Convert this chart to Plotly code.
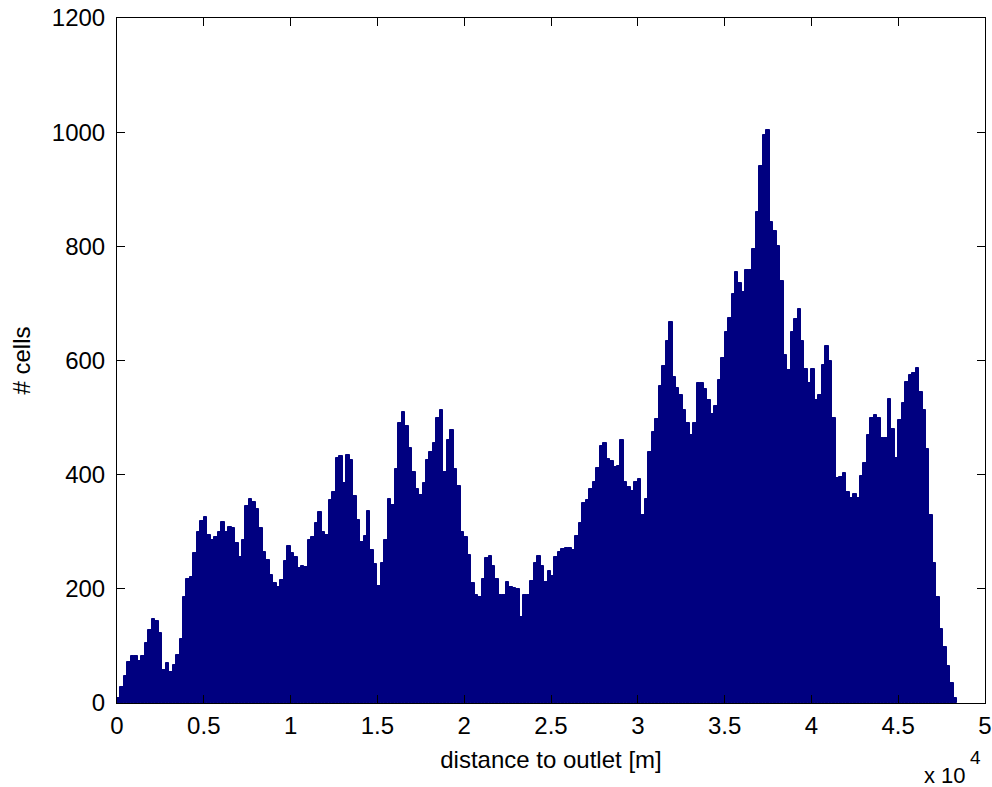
import numpy as np
import plotly.graph_objects as go

# Histogram: bins of 200 m starting at 0 m
bin_start = 0
bin_width = 200

counts = [
    8, 28, 48, 72, 82, 82, 74, 82, 105, 128,
    148, 143, 122, 58, 70, 55, 66, 84, 112, 185,
    218, 221, 262, 300, 318, 326, 295, 285, 291, 300,
    317, 300, 309, 306, 280, 256, 285, 345, 358, 352,
    340, 306, 265, 250,
    225, 210, 204, 215, 248, 275, 263, 255, 237, 240,
    238, 285, 290, 316, 335, 300, 295, 356, 370, 430,
    432, 385, 435, 425, 362, 320, 282, 292, 337, 268,
    243, 205, 245, 285, 358, 346, 410, 490, 510, 486,
    446, 405, 375,
    365, 385, 425, 440, 455, 500, 513, 405, 460, 478,
    410, 380, 300, 291, 260, 210, 190, 186, 218, 254,
    258, 240, 218, 190, 190, 212, 203, 201, 199, 150,
    189, 190, 213, 245, 258, 240, 212, 231, 222, 255,
    264, 270, 271,
    271, 268, 292, 315, 350, 355, 375, 388, 411, 450,
    455, 427, 424, 414, 415, 460, 387, 378, 372, 388,
    393, 330, 358, 440, 475, 498, 555, 590, 635, 668,
    571, 552, 540, 514, 490, 470, 490, 560, 560, 550,
    531, 507, 520, 566, 605, 650, 675, 716, 755, 735,
    720, 759, 759, 795, 861, 940, 995, 1004, 843, 826,
    800, 740, 610, 583, 650, 672, 690, 635, 585, 560,
    585, 530, 540, 592, 625, 600, 500, 395, 396, 403,
    370, 360, 367, 360,
    397, 420, 470, 500, 505, 500, 465, 465, 532, 480,
    429, 496, 525, 563, 574, 578, 587, 545, 513, 445,
    330, 245, 185, 130, 98, 65, 35, 8,
]

x_tick_vals = [0, 5000, 10000, 15000, 20000, 25000, 30000, 35000, 40000, 45000, 50000]
x_tick_text = ["0", "0.5", "1", "1.5", "2", "2.5", "3", "3.5", "4", "4.5", "5"]
y_tick_vals = [0, 200, 400, 600, 800, 1000, 1200]

centers = bin_start + bin_width * (np.arange(len(counts)) + 0.5)

fig = go.Figure(
    go.Bar(
        x=centers,
        y=counts,
        width=bin_width,
        marker=dict(color="#000080", line=dict(color="#000080", width=1)),
    )
)

font_family = "Liberation Sans, Arial, Helvetica, sans-serif"

W, H = 992, 787
ML, MR, MT, MB = 117, 7, 18, 84
PW, PH = W - ML - MR, H - MT - MB

fig.update_layout(
    width=W,
    height=H,
    autosize=False,
    margin=dict(l=ML, r=MR, t=MT, b=MB),
    paper_bgcolor="white",
    plot_bgcolor="white",
    bargap=0,
    showlegend=False,
    font=dict(family=font_family, size=24, color="black"),
)

fig.update_xaxes(
    range=[0, 50000],
    tickmode="array",
    tickvals=x_tick_vals,
    ticktext=x_tick_text,
    ticks="inside",
    ticklen=8,
    tickcolor="black",
    showline=True,
    linecolor="black",
    linewidth=1,
    mirror="ticks",
    showgrid=False,
    zeroline=False,
    automargin=False,
    ticklabelstandoff=1,
    title=dict(text="distance to outlet [m]", standoff=13, font=dict(size=24)),
)

fig.update_yaxes(
    range=[0, 1200],
    tickmode="array",
    tickvals=y_tick_vals,
    ticks="inside",
    ticklen=8,
    tickcolor="black",
    showline=True,
    linecolor="black",
    linewidth=1,
    mirror="ticks",
    showgrid=False,
    zeroline=False,
    automargin=False,
    ticklabelstandoff=6,
    title=dict(text="# cells", standoff=14, font=dict(size=24)),
)

# "x 10^4" exponent label at the lower right
fig.add_annotation(
    text="x 10",
    xref="paper", yref="paper",
    x=(968 - ML) / PW, y=(H - MB - 775) / PH,
    xanchor="right", yanchor="middle",
    showarrow=False,
    font=dict(size=22, family=font_family),
)
fig.add_annotation(
    text="4",
    xref="paper", yref="paper",
    x=(975 - ML) / PW, y=(H - MB - 757) / PH,
    xanchor="center", yanchor="middle",
    showarrow=False,
    font=dict(size=19, family=font_family),
)

fig.write_html(
    "out.html",
    config={"displayModeBar": False},
    post_script="document.body.style.margin='0';",
)
